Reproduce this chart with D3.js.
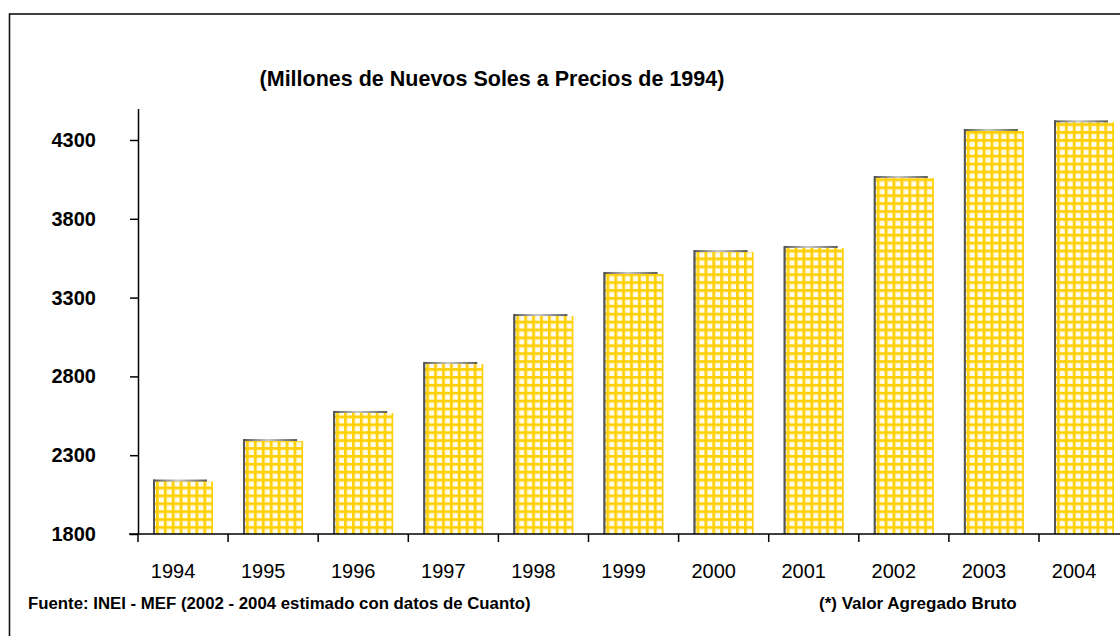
<!DOCTYPE html>
<html>
<head>
<meta charset="utf-8">
<style>
  body { margin: 0; background: #fff; }
  svg { display: block; font-family: "Liberation Sans", Arial, sans-serif; }
</style>
</head>
<body>
<div id="container"></div>
<script src="https://cdn.jsdelivr.net/npm/d3@7"></script>
<script>

// data
var years = ["1994", "1995", "1996", "1997", "1998", "1999", "2000", "2001", "2002", "2003", "2004"];
var values = [2133, 2390, 2568, 2879, 3183, 3450, 3589, 3615, 4059, 4357, 4412];
var yTicks = [1800, 2300, 2800, 3300, 3800, 4300];
var yDomain = [1800, 4500];

var title = "(Millones de Nuevos Soles a Precios de 1994)";
var source = "Fuente: INEI - MEF (2002 - 2004 estimado con datos de Cuanto)";
var note = "(*) Valor Agregado Bruto";

var W = 1120, H = 636;
var left = 138, base = 534, step = 90.1;

var svg = d3.select("#container")
  .append("svg")
    .attr("width", W)
    .attr("height", H);

var defs = svg.append("defs");

// gradient for the grey back of each bar
var grad = defs.append("linearGradient")
  .attr("id", "backGrad")
  .attr("x1", "0%").attr("x2", "100%").attr("y1", "0%").attr("y2", "0%");
grad.append("stop").attr("offset", "0%").attr("stop-color", "#555");
grad.append("stop").attr("offset", "45%").attr("stop-color", "#c8c8c8");
grad.append("stop").attr("offset", "100%").attr("stop-color", "#5a5a5a");

// outer frame (runs off the right/bottom edge)
svg.append("rect")
  .attr("x", 9.5)
  .attr("y", 14)
  .attr("width", 1300)
  .attr("height", 800)
  .attr("fill", "none")
  .attr("stroke", "#111")
  .attr("stroke-width", 1.6);

var x = d3.scaleBand()
  .domain(years)
  .range([left, left + step * years.length]);

var y = d3.scaleLinear()
  .domain(yDomain)
  .range([base, base - (yDomain[1] - yDomain[0]) * 78.8 / 500]);

var bars = years.map(function (d, i) { return {year: d, value: values[i]}; });

var faceOff = 17, faceW = 58, backOff = 15, backW = 54, depth = 2;

// one grid pattern per bar so the lines start at the bar edge
defs.selectAll("pattern")
  .data(bars)
  .enter()
  .append("pattern")
    .attr("id", function (d, i) { return "grid" + i; })
    .attr("patternUnits", "userSpaceOnUse")
    .attr("x", function (d) { return x(d.year) + faceOff + 1; })
    .attr("y", base)
    .attr("width", 7.9)
    .attr("height", 7.9)
  .each(function () {
    var p = d3.select(this);
    p.append("rect").attr("width", 7.9).attr("height", 7.9).attr("fill", "#fffdf0");
    p.append("rect").attr("x", -0.9).attr("width", 4.1).attr("height", 7.9).attr("fill", "#ffe680");
    p.append("rect").attr("y", -0.9).attr("width", 7.9).attr("height", 4.1).attr("fill", "#ffe680");
    p.append("rect").attr("x", 0).attr("width", 2.4).attr("height", 7.9).attr("fill", "#ffd000");
    p.append("rect").attr("y", 0).attr("width", 7.9).attr("height", 2.4).attr("fill", "#ffd000");
  });

var barG = svg.append("g");

// grey back (gives the 3D edge on top and left)
barG.selectAll(".back")
  .data(bars)
  .enter()
  .append("rect")
    .attr("class", "back")
    .attr("x", function (d) { return x(d.year) + backOff; })
    .attr("y", function (d) { return y(d.value) - depth; })
    .attr("width", backW)
    .attr("height", function (d) { return base - y(d.value) + depth; })
    .attr("fill", "url(#backGrad)");

barG.selectAll(".leftEdge")
  .data(bars)
  .enter()
  .append("rect")
    .attr("class", "leftEdge")
    .attr("x", function (d) { return x(d.year) + backOff; })
    .attr("y", function (d) { return y(d.value) - depth; })
    .attr("width", 2.2)
    .attr("height", function (d) { return base - y(d.value) + depth; })
    .attr("fill", "#555");

// yellow grid face
barG.selectAll(".face")
  .data(bars)
  .enter()
  .append("rect")
    .attr("class", "face")
    .attr("x", function (d) { return x(d.year) + faceOff; })
    .attr("y", function (d) { return y(d.value); })
    .attr("width", faceW)
    .attr("height", function (d) { return base - y(d.value); })
    .attr("fill", function (d, i) { return "url(#grid" + i + ")"; });

// Y axis
var yAxis = svg.append("g")
  .attr("transform", "translate(" + left + ",0)")
  .call(d3.axisLeft(y)
    .tickValues(yTicks)
    .tickFormat(d3.format("d"))
    .tickSize(8)
    .tickSizeOuter(0)
    .tickPadding(34));
yAxis.select(".domain").attr("stroke", "#000").attr("stroke-width", 1.5);
yAxis.selectAll(".tick line").attr("stroke", "#000").attr("stroke-width", 1.5);
yAxis.selectAll("text")
  .attr("fill", "#000")
  .style("font-family", "'Liberation Sans', Arial, sans-serif")
  .style("font-size", "20px")
  .style("font-weight", "bold");

// X axis line and boundary ticks
svg.append("line")
  .attr("x1", left - 9)
  .attr("x2", x.range()[1])
  .attr("y1", base)
  .attr("y2", base)
  .attr("stroke", "#000")
  .attr("stroke-width", 1.5);

svg.append("g")
  .selectAll("line")
  .data(years)
  .enter()
  .append("line")
    .attr("x1", function (d) { return x(d); })
    .attr("x2", function (d) { return x(d); })
    .attr("y1", base)
    .attr("y2", base + 8)
    .attr("stroke", "#000")
    .attr("stroke-width", 1.5);

// X labels
var xAxis = svg.append("g")
  .attr("transform", "translate(0," + base + ")")
  .call(d3.axisBottom(x).tickSize(0).tickPadding(30));
xAxis.select(".domain").remove();
xAxis.selectAll("text")
  .attr("dx", -10)
  .attr("fill", "#000")
  .style("font-family", "'Liberation Sans', Arial, sans-serif")
  .style("font-size", "20px");

// title
svg.append("text")
  .attr("x", 492)
  .attr("y", 86)
  .attr("text-anchor", "middle")
  .style("font-size", "21.5px")
  .style("font-weight", "bold")
  .text(title);

// footer
svg.append("text")
  .attr("x", 28)
  .attr("y", 609)
  .style("font-size", "16.8px")
  .style("font-weight", "bold")
  .text(source);

svg.append("text")
  .attr("x", 819)
  .attr("y", 609)
  .style("font-size", "17px")
  .style("font-weight", "bold")
  .text(note);

</script>
</body>
</html>
